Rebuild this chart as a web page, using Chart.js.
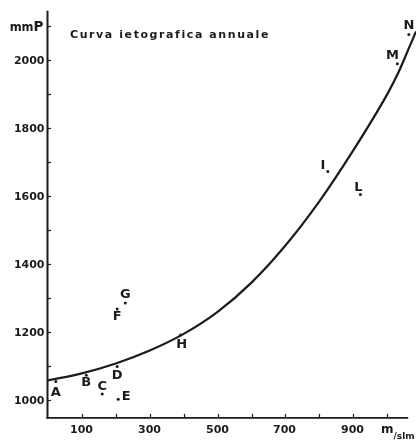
<!DOCTYPE html>
<html>
<head>
<meta charset="utf-8">
<script src="https://cdn.jsdelivr.net/npm/chart.js@4/dist/chart.umd.min.js"></script>
<style>
  html, body { margin: 0; padding: 0; background: #fff; }
  canvas { display: block; }
</style>
</head>
<body>
<canvas id="c" width="420" height="442"></canvas>
<script>
// ---- data ----
const curveX = [0, 100, 200, 300, 400, 500, 600, 700, 800, 900, 1000, 1032, 1064, 1085];
const curveY = [1058, 1079, 1108, 1146, 1195, 1260, 1346, 1455, 1585, 1735, 1900, 1962, 2036, 2085];

const stationNames = ['A', 'B', 'C', 'D', 'E', 'F', 'G', 'H', 'I', 'L', 'M', 'N'];
const stationX = [23, 113, 160, 204, 207, 204, 228, 391, 825, 921, 1030, 1064];
const stationY = [1055, 1073, 1018, 1099, 1003, 1268, 1286, 1192, 1673, 1605, 1990, 2076];

const yTickValues = [1000, 1100, 1200, 1300, 1400, 1500, 1600, 1700, 1800, 1900, 2000, 2100];
const yTickLabels = ['1000', '', '1200', '', '1400', '', '1600', '', '1800', '', '2000', ''];
const xTickValues = [100, 200, 300, 400, 500, 600, 700, 800, 900, 1000];
const xTickLabels = ['100', '', '300', '', '500', '', '700', '', '900', ''];

const titleText = 'Curva ietografica annuale';
const yUnitSmall = 'mm';
const yUnitBig = 'P';
const xUnitBig = 'm';
const xUnitSmall = '/slm';

// label offsets (pixels) relative to each station dot — style only
const labelDX = [0, 0, 0, 0, 8, 0, 0, 1, -5, -2, -5, 0];
const labelDY = [11, 7, -7, 9, -3, 8, -8, 10, -6, -7, -8, -9];

const INK = '#1b1b1b';
const FONT = '"DejaVu Sans", "Liberation Sans", sans-serif';

const curveData = curveX.map((x, i) => ({ x: x, y: curveY[i] }));
const stationData = stationX.map((x, i) => ({ x: x, y: stationY[i] }));

const decor = {
  id: 'decor',
  afterDraw(chart) {
    const ctx = chart.ctx;
    const xs = chart.scales.x, ys = chart.scales.y;
    ctx.save();
    ctx.strokeStyle = INK;
    ctx.fillStyle = INK;
    ctx.lineCap = 'butt';

    // axes
    const x0 = xs.getPixelForValue(0) - 0.5;
    const yb = ys.getPixelForValue(948);
    ctx.lineWidth = 2;
    ctx.beginPath();
    ctx.moveTo(x0, ys.getPixelForValue(2146));
    ctx.lineTo(x0, yb + 1);
    ctx.stroke();
    ctx.lineWidth = 1.6;
    ctx.beginPath();
    ctx.moveTo(x0 - 1, yb);
    ctx.lineTo(xs.getPixelForValue(1062), yb);
    ctx.stroke();

    // y ticks + labels
    ctx.font = 'bold 11px ' + FONT;
    ctx.textAlign = 'right';
    ctx.textBaseline = 'middle';
    ctx.lineWidth = 1.2;
    yTickValues.forEach((v, i) => {
      const py = Math.round(ys.getPixelForValue(v)) + 0.5;
      ctx.beginPath();
      ctx.moveTo(x0, py);
      ctx.lineTo(x0 + 3.5, py);
      ctx.stroke();
      if (yTickLabels[i]) ctx.fillText(yTickLabels[i], x0 - 3, py + 0.5);
    });
    // y unit "mmP"
    const pyTop = ys.getPixelForValue(2100);
    ctx.textAlign = 'left';
    ctx.textBaseline = 'alphabetic';
    ctx.font = 'bold 13.5px ' + FONT;
    const wP = ctx.measureText(yUnitBig).width;
    const pX = x0 - 4 - wP;
    ctx.fillText(yUnitBig, pX, pyTop + 4.5);
    ctx.font = 'bold 11.5px ' + FONT;
    const wmm = ctx.measureText(yUnitSmall).width;
    ctx.fillText(yUnitSmall, pX - wmm, pyTop + 4.5);

    // x ticks + labels
    ctx.font = 'bold 11px ' + FONT;
    ctx.textAlign = 'center';
    ctx.textBaseline = 'middle';
    xTickValues.forEach((v, i) => {
      const px = Math.round(xs.getPixelForValue(v)) + 0.5;
      ctx.beginPath();
      ctx.moveTo(px, yb);
      ctx.lineTo(px, yb - 4);
      ctx.stroke();
      if (xTickLabels[i]) ctx.fillText(xTickLabels[i], px - 1, yb + 12);
    });
    // x unit "m/slm"
    ctx.textAlign = 'left';
    ctx.textBaseline = 'alphabetic';
    ctx.font = 'bold 12px ' + FONT;
    const mx = 381;
    ctx.fillText(xUnitBig, mx, yb + 15);
    const wm = ctx.measureText(xUnitBig).width;
    ctx.font = 'bold 9px ' + FONT;
    ctx.fillText(xUnitSmall, mx + wm, yb + 21);

    // title with letter spacing
    ctx.font = 'bold 11px ' + FONT;
    ctx.textBaseline = 'middle';
    ctx.textAlign = 'left';
    const plain = ctx.measureText(titleText).width;
    const targetW = 198;
    const sp = (targetW - plain) / (titleText.length - 1);
    let tx = 70;
    for (const ch of titleText) {
      ctx.fillText(ch, tx, 35);
      tx += ctx.measureText(ch).width + sp;
    }

    // station labels
    ctx.font = 'bold 13px ' + FONT;
    ctx.textAlign = 'center';
    ctx.textBaseline = 'middle';
    stationNames.forEach((n, i) => {
      const px = xs.getPixelForValue(stationX[i]);
      const py = ys.getPixelForValue(stationY[i]);
      ctx.fillText(n, px + labelDX[i], py + labelDY[i]);
    });
    ctx.restore();
  }
};

new Chart(document.getElementById('c'), {
  type: 'line',
  data: {
    datasets: [
      {
        label: 'Curva ietografica',
        data: curveData,
        borderColor: INK,
        borderWidth: 2.2,
        pointRadius: 0,
        fill: false,
        cubicInterpolationMode: 'monotone'
      },
      {
        type: 'scatter',
        label: 'Stazioni',
        data: stationData,
        pointRadius: 1.5,
        pointBackgroundColor: INK,
        pointBorderWidth: 0,
        showLine: false
      }
    ]
  },
  options: {
    responsive: false,
    animation: false,
    layout: { padding: { left: 48, right: 0, top: 0, bottom: 24 } },
    scales: {
      x: { type: 'linear', min: 0, max: 1085, display: false },
      y: { type: 'linear', min: 947.5, max: 2166, display: false }
    },
    plugins: {
      legend: { display: false },
      tooltip: { enabled: false },
      title: { display: false }
    }
  },
  plugins: [decor]
});
</script>
</body>
</html>
